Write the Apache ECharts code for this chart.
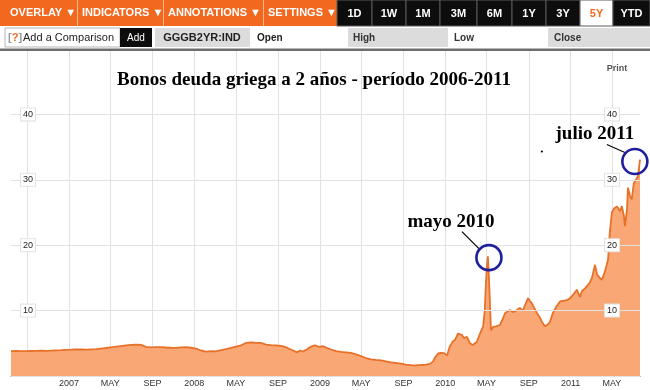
<!DOCTYPE html>
<html><head><meta charset="utf-8">
<script src="https://cdn.jsdelivr.net/npm/echarts@6/dist/echarts.min.js"></script>
<style>html,body{margin:0;padding:0;background:#fff}#c{width:650px;height:390px}</style>
</head><body><div id="c"></div>
<script>
const dates = ['2006-07-16','2006-07-31','2006-08-14','2006-08-29','2006-09-12','2006-09-27','2006-10-11','2006-10-26','2006-11-10','2006-11-24','2006-12-09','2006-12-23',
'2007-01-07','2007-01-21','2007-02-05','2007-02-20','2007-03-06','2007-03-21','2007-04-04','2007-04-19','2007-05-03','2007-05-18','2007-06-01','2007-06-16','2007-07-01','2007-07-15','2007-07-30','2007-08-13','2007-08-28','2007-09-11','2007-09-26','2007-10-10','2007-10-25','2007-11-09','2007-11-23','2007-12-08','2007-12-22',
'2008-01-06','2008-01-20','2008-02-04','2008-02-19','2008-03-04','2008-03-19','2008-04-02','2008-04-17','2008-05-01','2008-05-16','2008-05-30','2008-06-14','2008-06-29','2008-07-13','2008-07-28','2008-08-11','2008-08-26','2008-09-09','2008-09-24','2008-10-08','2008-10-17','2008-10-26','2008-11-04','2008-11-12','2008-11-24','2008-12-06','2008-12-17','2008-12-29',
'2009-01-10','2009-01-21','2009-02-02','2009-02-17','2009-03-03','2009-03-18','2009-04-01','2009-04-16','2009-04-30','2009-05-15','2009-05-29','2009-06-13','2009-06-28','2009-07-12','2009-07-27','2009-08-10','2009-08-25','2009-09-08','2009-09-23','2009-10-07','2009-10-22','2009-11-06','2009-11-17','2009-11-26','2009-12-02','2009-12-11','2009-12-19','2009-12-28',
'2010-01-06','2010-01-14','2010-01-23','2010-01-29','2010-02-07','2010-02-18','2010-02-24','2010-03-05','2010-03-14','2010-03-22','2010-04-03','2010-04-12','2010-04-21','2010-04-26','2010-04-29','2010-05-02','2010-05-05','2010-05-08','2010-05-11','2010-05-14','2010-05-20','2010-05-28','2010-06-09','2010-06-18','2010-06-24','2010-07-02','2010-07-08','2010-07-17','2010-07-23','2010-07-31','2010-08-06','2010-08-15','2010-08-21','2010-08-30','2010-09-04','2010-09-10','2010-09-19','2010-09-25','2010-10-04','2010-10-09','2010-10-18','2010-10-27','2010-11-02','2010-11-10','2010-11-19','2010-12-01','2010-12-10','2010-12-21','2010-12-30',
'2011-01-08','2011-01-13','2011-01-19','2011-01-28','2011-02-03','2011-02-12','2011-02-17','2011-02-26','2011-03-04','2011-03-13','2011-03-19','2011-03-27','2011-04-02','2011-04-11','2011-04-20','2011-04-25','2011-05-01','2011-05-07','2011-05-16','2011-05-25','2011-05-30','2011-06-05','2011-06-08','2011-06-14','2011-06-17','2011-06-23','2011-06-28','2011-07-04','2011-07-10','2011-07-16','2011-07-22'];
const yields = [3.80,3.82,3.80,3.80,3.82,3.84,3.86,3.85,3.88,3.92,3.96,4.00,
4.02,4.05,4.06,4.04,4.08,4.12,4.20,4.28,4.38,4.48,4.58,4.68,4.75,4.78,4.75,4.45,4.38,4.42,4.40,4.36,4.32,4.30,4.38,4.40,4.32,
4.20,3.90,3.72,3.80,3.76,3.95,4.10,4.30,4.50,4.70,5.05,5.15,5.08,5.05,4.80,4.72,4.68,4.62,4.40,4.05,3.85,3.62,3.90,3.75,4.10,4.50,4.70,4.45,
4.55,4.30,4.05,3.80,3.68,3.62,3.52,3.30,3.05,2.75,2.55,2.45,2.38,2.25,2.08,2.00,1.88,1.75,1.65,1.62,1.68,1.75,1.85,2.20,2.85,3.45,3.55,3.50,
3.15,4.50,5.30,5.50,6.50,6.30,5.80,6.00,5.00,4.75,5.25,6.50,7.55,10.1,14.0,16.7,18.3,15.0,11.0,7.0,7.5,7.6,7.8,8.8,9.6,9.9,10.1,9.8,9.85,10.2,10.4,10.0,10.8,11.9,11.5,11.1,10.2,9.6,8.9,8.3,7.6,7.9,8.3,9.6,10.5,11.4,11.5,11.6,11.9,
12.4,12.6,13.2,12.1,13.0,13.4,13.7,14.3,15.0,17.0,15.5,15.0,14.7,16.0,17.8,21.9,25.0,25.6,25.9,25.2,26.0,24.5,22.9,25.4,28.8,27.5,27.0,29.5,30.0,30.5,33.1];

const tickDates = ['2006-09-01','2007-01-01','2007-05-01','2007-09-01','2008-01-01','2008-05-01','2008-09-01','2009-01-01','2009-05-01','2009-09-01','2010-01-01','2010-05-01','2010-09-01','2011-01-01','2011-05-01'];
const tickLabels = ['','2007','MAY','SEP','2008','MAY','SEP','2009','MAY','SEP','2010','MAY','SEP','2011','MAY'];

const annotDates = ['2010-05-08','2011-07-07'];
const annotValues = [18.1, 32.8];
const annotLabels = ['mayo 2010','julio 2011'];

const titleText = 'Bonos deuda griega a 2 años - período 2006-2011';
const menuLabels = ['OVERLAY ▼','INDICATORS ▼','ANNOTATIONS ▼','SETTINGS ▼'];
const rangeLabels = ['1D','1W','1M','3M','6M','1Y','3Y','5Y','YTD'];
const selectedRange = '5Y';

const ts = d => Date.parse(d);
const chart = echarts.init(document.getElementById('c'));
const tickTs = tickDates.map(ts);
const SANS = '"Liberation Sans", Arial, sans-serif';
const SERIF = '"Liberation Serif", "Times New Roman", serif';

const labelStyle = {
  fontSize: 9, color: '#222', fontFamily: SANS, backgroundColor: '#fff',
  borderColor: '#e2e2e2', borderWidth: 1, padding: [2, 2, 1, 2], align: 'center', margin: 0
};

chart.setOption({
  animation: false,
  grid: { left: 11, right: 10, top: 49, bottom: 14 },
  xAxis: {
    type: 'value', min: ts(dates[0]), max: ts(dates[dates.length - 1]),
    axisLine: { show: true, onZero: false, lineStyle: { color: '#444', width: 1 } },
    axisTick: { show: false, customValues: tickTs },
    splitLine: { show: true, lineStyle: { color: '#e2e2e2', width: 1 } },
    axisLabel: {
      customValues: tickTs.slice(1), fontSize: 9, color: '#333', fontFamily: SANS, margin: 3,
      formatter: function (v) {
        let best = 0, bd = Infinity;
        tickTs.forEach((t, i) => { const d = Math.abs(t - v); if (d < bd) { bd = d; best = i; } });
        return tickLabels[best];
      }
    }
  },
  yAxis: [
    { type: 'value', min: 0, max: 50, interval: 10, position: 'left', offset: -17, z: 10,
      axisLine: { show: false }, axisTick: { show: false },
      splitLine: { show: true, lineStyle: { color: '#e2e2e2' } },
      axisLabel: Object.assign({ showMinLabel: false, showMaxLabel: false }, labelStyle) },
    { type: 'value', min: 0, max: 50, interval: 10, position: 'right', offset: -28, z: 10,
      axisLine: { show: false }, axisTick: { show: false }, splitLine: { show: false },
      axisLabel: Object.assign({ showMinLabel: false, showMaxLabel: false }, labelStyle) }
  ],
  series: [{
    type: 'line', yAxisIndex: 0, showSymbol: false, symbol: 'none',
    data: dates.map((d, i) => [ts(d), yields[i]]),
    lineStyle: { color: '#E8712A', width: 1.8 },
    areaStyle: { color: '#F9A774', opacity: 1 },
    z: 3
  }]
});

const g = [];
g.push({ type: 'rect', shape: { x: 0, y: 0, width: 337, height: 26 }, style: { fill: '#F2681F' }, z: 100 });
const menuX = [10, 82, 168, 268];
const menuDiv = [77, 163, 263];
menuDiv.forEach(x => g.push({ type: 'rect', shape: { x: x, y: 0, width: 1, height: 26 }, style: { fill: '#F9B88F' }, z: 101 }));
menuLabels.forEach((t, i) => g.push({ type: 'text', style: { text: t, x: menuX[i], y: 13, fill: '#fff', font: 'bold 11px ' + SANS, align: 'left', verticalAlign: 'middle' }, z: 102 }));
const btnEdges = [337, 372, 406, 440, 477, 512, 546, 580, 613, 650];
rangeLabels.forEach((t, i) => {
  const x0 = btnEdges[i], x1 = btnEdges[i + 1];
  const sel = t === selectedRange;
  g.push({ type: 'rect', shape: { x: x0, y: 0, width: x1 - x0, height: 26 }, style: { fill: sel ? '#fff' : '#0d0d0d', stroke: '#5a5a5a', lineWidth: 1 }, z: 100 });
  g.push({ type: 'text', style: { text: t, x: (x0 + x1) / 2, y: 14, fill: sel ? '#F2681F' : '#fff', font: 'bold 11px ' + SANS, align: 'center', verticalAlign: 'middle' }, z: 102 });
});
g.push({ type: 'rect', shape: { x: 5, y: 28, width: 115, height: 19 }, style: { fill: '#fff', stroke: '#b5b5b5', lineWidth: 1 }, z: 100 });
g.push({ type: 'text', style: { text: '{b|[}{q|?}{b|]}', x: 8, y: 38, font: 'bold 11px ' + SANS, align: 'left', verticalAlign: 'middle',
  rich: { b: { fill: '#999', font: 'bold 11px ' + SANS }, q: { fill: '#F2681F', font: 'bold 11px ' + SANS } } }, z: 102 });
g.push({ type: 'text', style: { text: 'Add a Comparison', x: 23, y: 38, fill: '#222', font: '11px ' + SANS, align: 'left', verticalAlign: 'middle' }, z: 102 });
g.push({ type: 'rect', shape: { x: 120, y: 28, width: 32, height: 19 }, style: { fill: '#0d0d0d' }, z: 100 });
g.push({ type: 'text', style: { text: 'Add', x: 136, y: 38, fill: '#fff', font: '10px ' + SANS, align: 'center', verticalAlign: 'middle' }, z: 102 });
g.push({ type: 'rect', shape: { x: 155, y: 28, width: 95, height: 19 }, style: { fill: '#dcdcdc' }, z: 100 });
g.push({ type: 'text', style: { text: 'GGGB2YR:IND', x: 202, y: 38, fill: '#222', font: 'bold 11px ' + SANS, align: 'center', verticalAlign: 'middle' }, z: 102 });
g.push({ type: 'text', style: { text: 'Open', x: 257, y: 38, fill: '#222', font: 'bold 10px ' + SANS, align: 'left', verticalAlign: 'middle' }, z: 102 });
g.push({ type: 'rect', shape: { x: 348, y: 28, width: 100, height: 19 }, style: { fill: '#dcdcdc' }, z: 100 });
g.push({ type: 'text', style: { text: 'High', x: 353, y: 38, fill: '#333', font: 'bold 10px ' + SANS, align: 'left', verticalAlign: 'middle' }, z: 102 });
g.push({ type: 'text', style: { text: 'Low', x: 454, y: 38, fill: '#333', font: 'bold 10px ' + SANS, align: 'left', verticalAlign: 'middle' }, z: 102 });
g.push({ type: 'rect', shape: { x: 548, y: 28, width: 102, height: 19 }, style: { fill: '#dcdcdc' }, z: 100 });
g.push({ type: 'text', style: { text: 'Close', x: 554, y: 38, fill: '#333', font: 'bold 10px ' + SANS, align: 'left', verticalAlign: 'middle' }, z: 102 });
g.push({ type: 'rect', shape: { x: 0, y: 48.5, width: 650, height: 2.5 }, style: { fill: '#6e6e6e' }, z: 100 });
g.push({ type: 'text', style: { text: titleText, x: 314, y: 80, fill: '#000', font: 'bold 19px ' + SERIF, align: 'center', verticalAlign: 'middle' }, z: 110 });
g.push({ type: 'text', style: { text: 'Print', x: 617, y: 69, fill: '#555', font: 'bold 9px ' + SANS, align: 'center', verticalAlign: 'middle' }, z: 110 });

const leadFrom = [[-27, -26], [-28, -17]];
const leadTo = [[-9, -8], [-10, -9]];
const textOff = [[-38, -36], [-40, -27]];
annotDates.forEach((d, i) => {
  const p = chart.convertToPixel({ gridIndex: 0 }, [ts(d), annotValues[i]]);
  g.push({ type: 'line', shape: { x1: p[0] + leadFrom[i][0], y1: p[1] + leadFrom[i][1], x2: p[0] + leadTo[i][0], y2: p[1] + leadTo[i][1] }, style: { stroke: '#000', lineWidth: 1.2 }, z: 110 });
  g.push({ type: 'circle', shape: { cx: p[0], cy: p[1], r: 12.5 }, style: { fill: 'none', stroke: '#1f1f9e', lineWidth: 2.6 }, z: 110 });
  g.push({ type: 'text', style: { text: annotLabels[i], x: p[0] + textOff[i][0], y: p[1] + textOff[i][1], fill: '#000', font: 'bold 19px ' + SERIF, align: 'center', verticalAlign: 'middle' }, z: 110 });
});
const pd = chart.convertToPixel({ gridIndex: 0 }, [ts(annotDates[1]), annotValues[1]]);
g.push({ type: 'circle', shape: { cx: pd[0] - 93, cy: pd[1] - 10, r: 1.1 }, style: { fill: '#000' }, z: 110 });

chart.setOption({ graphic: g });
</script></body></html>
